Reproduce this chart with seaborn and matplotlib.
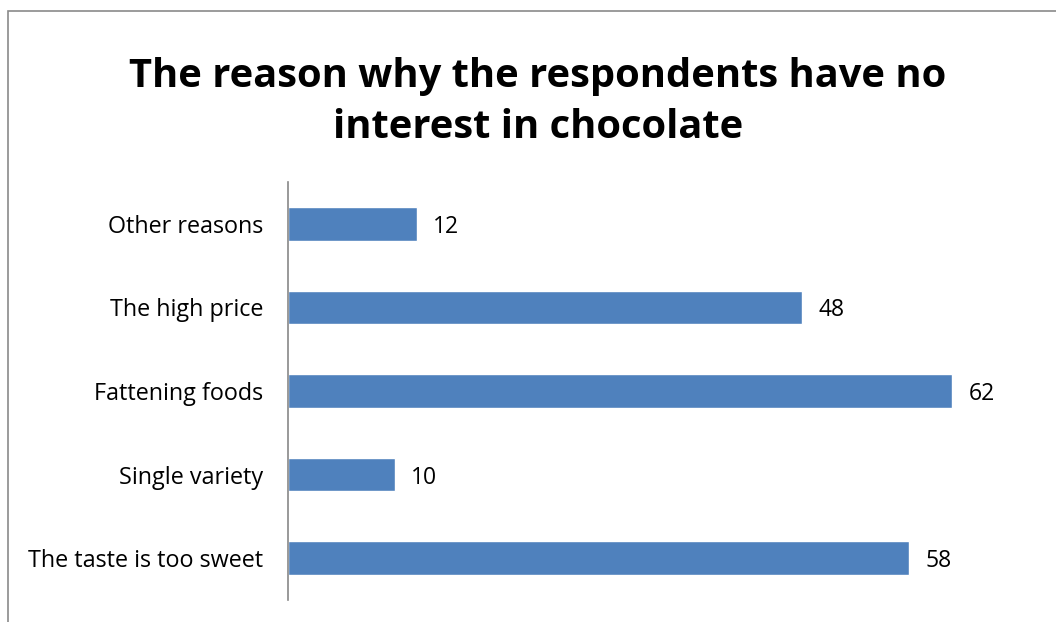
import matplotlib
matplotlib.use("Agg")
import matplotlib.pyplot as plt
from matplotlib.patches import Rectangle
import seaborn as sns
import pandas as pd

categories = ["Other reasons", "The high price", "Fattening foods",
              "Single variety", "The taste is too sweet"]
values = [12, 48, 62, 10, 58]
title = "The reason why the respondents have no\ninterest in chocolate"

sns.set_theme(style="white")
plt.rcParams["font.family"] = ["Open Sans", "DejaVu Sans"]

df = pd.DataFrame({"reason": categories, "count": values})

fig = plt.figure(figsize=(10.56, 6.22), dpi=100)
ax = fig.add_axes([288 / 1056, 1 - 600 / 622, (1038 - 288) / 1056, (600 - 182) / 622])

sns.barplot(data=df, x="count", y="reason", orient="h", color="#4F81BD",
            saturation=1, width=0.4, ax=ax)

for i, v in enumerate(values):
    ax.text(v + 1.5, i, str(v), va="center_baseline", ha="left",
            fontsize=16.5, color="black")

ax.set_xlim(0, 70)
ax.set_ylim(4.5, -0.5)
ax.set_xlabel("")
ax.set_ylabel("")
ax.set_xticks([])
ax.tick_params(axis="y", length=0, labelsize=16.8, pad=18, colors="black")
for side in ["top", "right", "bottom"]:
    ax.spines[side].set_visible(False)
ax.spines["left"].set_color("#888888")
ax.spines["left"].set_linewidth(1.2)

fig.text(538 / 1056, 1 - 102 / 622, title, ha="center", va="center",
         fontsize=28.7, fontweight="bold", linespacing=1.38, color="black")

# chart frame
fig.patches.append(Rectangle((8 / 1056, -0.5), 2, 0.5 + (1 - 11 / 622),
                             transform=fig.transFigure, fill=False,
                             edgecolor="#8a8a8a", linewidth=1.2))

fig.savefig("out.png", dpi=100)
